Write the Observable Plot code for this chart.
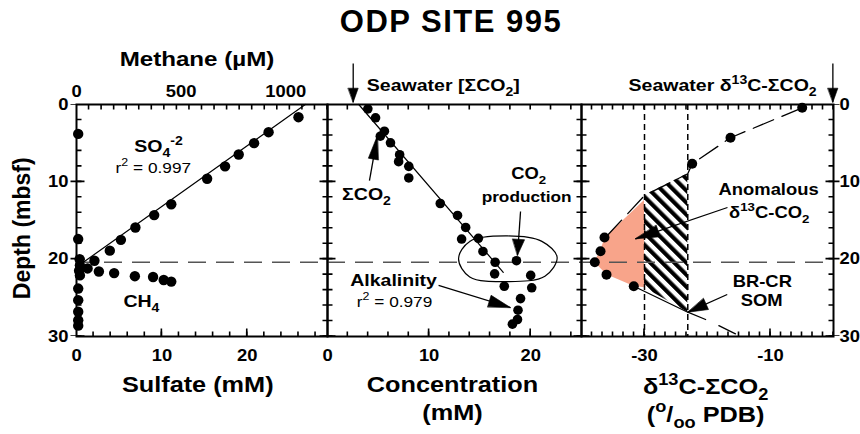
<!DOCTYPE html>
<html>
<head>
<meta charset="utf-8">
<script src="https://cdn.jsdelivr.net/npm/d3@7"></script>
<script src="https://cdn.jsdelivr.net/npm/@observablehq/plot@0.6"></script>
<style>
  body { margin: 0; background: #fff; }
  #chart { position: relative; width: 860px; height: 434px; overflow: hidden; font-family: "Liberation Sans", Arial, Helvetica, sans-serif; color: #000; }
  #chart svg { position: absolute; left: 0; top: 0; }
  #title { position: absolute; top: 6px; left: 0; width: 902px; text-align: center; font-size: 31px; line-height: 31px; font-weight: bold; letter-spacing: 1.5px; }
</style>
</head>
<body>
<div id="chart"><div id="title"></div></div>
<script>
// ---------------- data ----------------
const title = "ODP SITE 995";

// Left panel: sulfate (mM) and methane (µM) vs depth (mbsf)
const sulfateDepth = [1.64, 3.58, 5.0, 6.47, 8.0, 9.6, 12.9, 14.3, 15.9, 17.5, 18.9, 20.2, 21.2, 20.8, 21.5, 22.1, 23.8, 25.3, 26.8, 27.9, 28.6];
const sulfateMM    = [26.0, 22.5, 20.8, 19.0, 17.4, 15.3, 11.1, 9.1, 6.9, 5.2, 3.9, 2.1, 1.3, 0.4, 0.3, 0.4, 0.2, 0.2, 0.2, 0.2, 0.2];
const sulfateFitDepth = [0, 20.4];
const sulfateFitMM    = [26.8, 0.8];
const methaneDepth = [3.8, 17.4, 20.0, 21.6, 21.8, 22.2, 22.3, 22.7, 22.9];
const methaneUM    = [8, 8, 15, 107, 180, 279, 366, 417, 453];

// Middle panel: ΣCO2 / alkalinity concentration (mM) vs depth
const concDepth = [0.56, 1.72, 3.45, 4.1, 4.95, 6.5, 7.4, 8.0, 9.5, 12.8, 14.35, 15.9, 17.4, 17.3, 19.0, 20.4, 21.9, 23.5, 20.2, 22.1, 23.7, 25.1, 26.6, 27.8, 28.4];
const concMM    = [3.97, 4.73, 5.6, 5.2, 6.2, 7.1, 7.0, 8.0, 8.0, 11.1, 12.8, 13.6, 13.2, 14.85, 15.3, 16.5, 16.45, 17.4, 18.6, 20.0, 20.1, 19.0, 18.75, 18.7, 18.2];
const dicFitDepth = [0, 21.7];
const dicFitMM    = [3.08, 17.3];
const ellipseMM    = [12.9, 14.0, 17.7, 21.1, 22.6, 21.4, 17.7, 14.0];
const ellipseDepth = [19.95, 17.7, 17.0, 17.7, 19.75, 22.2, 22.9, 22.3];
const seawaterDIC = 2.53;

// Right panel: δ13C-ΣCO2 (‰ PDB) vs depth
const d13Depth = [0.43, 4.3, 7.67, 17.2, 18.97, 20.4, 22.0, 23.5];
const d13C     = [-4.97, -16.35, -22.43, -36.35, -36.98, -37.89, -36.03, -31.70];
const upperTrendC     = [-4.97, -16.35, -22.43, -23.13, -30.0, -36.19];
const upperTrendDepth = [0.43, 4.3, 7.67, 8.96, 11.77, 17.2];
const lowerTrendC     = [-31.7, -23.13, -20.3];
const lowerTrendDepth = [23.5, 26.86, 27.8];
const lowerTailC      = [-18.2, -15.56];
const lowerTailDepth  = [28.6, 29.65];
const somBounds = [-30.0, -23.13];            // vertical dotted lines
const hatchTop    = [11.77, 8.96];
const hatchBottom = [23.7, 26.86];
const anomDepth = [12.4, 17.2, 18.97, 20.4, 22.0, 23.5, 23.7];
const anomLeftC = [-30.0, -36.2, -37.0, -37.9, -36.0, -31.7, -30.0];
const seawaterD13 = -0.1;
const smtDepth = 20.4;                         // dashed horizontal line

// tick spacing / labels
const depthStep = 2, depthMajorStep = 10;
const depthLabels = [0, 10, 20, 30];
const sulfateStep = 2, sulfateLabels = [0, 10, 20];
const methaneStep = 60, methaneLabels = [0, 500, 1000];
const concStep = 2, concLabels = [0, 10, 20];
const d13Step = 5 / 3, d13Labels = [-30, -10];

// text
const txt = {
  methane: "Methane (µM)", sulfate: "Sulfate (mM)", depth: "Depth (mbsf)",
  so4: "SO{_4}{^-2}", r2a: "r{^2} = 0.997", ch4: "CH{_4}",
  swDIC: "Seawater [ΣCO{_2}]", dic: "ΣCO{_2}", co2: "CO{_2}", prod: "production",
  alk: "Alkalinity", r2b: "r{^2} = 0.979", conc1: "Concentration", conc2: "(mM)",
  swD13: "Seawater δ{^13}C-ΣCO{_2}", anom1: "Anomalous", anom2: "δ{^13}C-CO{_2}",
  som1: "BR-CR", som2: "SOM", d13a: "δ{^13}C-ΣCO{_2}", d13b: "({^o}/{_oo} PDB)"
};

// ---------------- layout ----------------
const W = 860, H = 434, TOP = 104, BOTTOM = 336;
const EDGES = [76, 327, 581, 833];
const depthDomain = [0, 30];
const FONT = '"Liberation Sans", Arial, Helvetica, sans-serif';
document.getElementById("title").textContent = title;

const rows = (xs, ys) => xs.map((x, i) => ({x, y: ys[i]}));

function makePlot(left, right, xDomain, marks) {
  return Plot.plot({
    width: W, height: H,
    marginLeft: left, marginRight: W - right, marginTop: TOP, marginBottom: H - BOTTOM,
    x: {domain: xDomain, axis: null},
    y: {domain: depthDomain, reverse: true, axis: null},
    style: {fontFamily: FONT, fontWeight: "bold", fontSize: "16px", background: "transparent", overflow: "visible", color: "black"},
    marks
  });
}

// Ticks drawn as thick dashed rules along each frame edge: every dash is one tick.
// Dash spacing comes from the panel's scale; the rule's width is the tick length.
function ticker(xDomain, left, right) {
  const sx = Plot.scale({x: {domain: xDomain, range: [left, right]}});
  const sy = Plot.scale({y: {domain: depthDomain, range: [TOP, BOTTOM]}});
  return (side, step, inward, outward = 0, start) => {
    const horiz = side === "bottom" || side === "top";
    const s0 = start === undefined ? (horiz ? xDomain[0] : depthDomain[0]) : start;
    const spacing = horiz ? Math.abs(sx.apply(xDomain[0] + step) - sx.apply(xDomain[0])) : Math.abs(sy.apply(step) - sy.apply(0));
    const startPx = horiz ? sx.apply(s0) - left : sy.apply(s0) - TOP;
    const offset = (((0.8 - startPx) % spacing) + spacing) % spacing;
    const dash = {stroke: "black", strokeDasharray: `1.6,${(spacing - 1.6).toFixed(3)}`, strokeDashoffset: offset};
    const edge = {bottom: BOTTOM, top: TOP, left, right}[side];
    const dir = (side === "bottom" || side === "right") ? -1 : 1;
    const out = [];
    const add = (px, w) => out.push(horiz
      ? Plot.ruleY([sy.invert(px)], {...dash, strokeWidth: w})
      : Plot.ruleX([sx.invert(px)], {...dash, strokeWidth: w}));
    if (inward) add(edge + dir * inward / 2, inward);
    if (outward) add(edge - dir * outward / 2, outward);
    return out;
  };
}
const lb = (fn, anchor, values, pad) => fn(values, {anchor, tickSize: 0, tickPadding: pad, label: null, tickFormat: d => String(d), fontSize: 16, fontWeight: "bold"});
const T = (t, x, y, fs, o = {}) => Plot.text([{x, y, t}], {x: "x", y: "y", text: "t", fontSize: fs, textAnchor: "middle", lineAnchor: "middle", fill: "black", ...o});

function arrows(list, xDomain, left, right) {
  const sx = Plot.scale({x: {domain: xDomain, range: [left, right]}});
  const sy = Plot.scale({y: {domain: depthDomain, range: [TOP, BOTTOM]}});
  return list.flatMap(a => {
    const dx = sx.apply(a.x2) - sx.apply(a.x1), dy = sy.apply(a.y2) - sy.apply(a.y1);
    const angle = Math.atan2(dx, -dy) * 180 / Math.PI;
    const hw = a.hw;
    const shape = {draw(ctx, l) { ctx.moveTo(0, -l); ctx.lineTo(-hw, 0); ctx.lineTo(hw, 0); ctx.closePath(); }};
    return [
      Plot.link([a], {x1: "x1", y1: "y1", x2: "x2", y2: "y2", stroke: "black", strokeWidth: 1.3}),
      Plot.vector([a], {x: "x2", y: "y2", rotate: angle, length: a.len, anchor: "end", shape, fill: "black", stroke: "black", strokeWidth: 0.6})
    ];
  });
}

// ---------- left panel: sulfate ----------
const sulfDomain = [0, 29.4];
const tkS = ticker(sulfDomain, EDGES[0], EDGES[1]);
const pSulfate = makePlot(EDGES[0], EDGES[1], sulfDomain, [
  ...tkS("bottom", sulfateStep, 5), ...tkS("bottom", 10, 8),
  ...tkS("left", depthStep, 5), ...tkS("left", depthMajorStep, 8, 6),
  ...tkS("right", depthStep, 5), ...tkS("right", depthMajorStep, 8),
  Plot.ruleY([smtDepth], {stroke: "#555", strokeWidth: 1.5, strokeDasharray: "18,10"}),
  Plot.line(rows(sulfateFitMM, sulfateFitDepth), {x: "x", y: "y", stroke: "black", strokeWidth: 1.2}),
  Plot.dot(rows(sulfateMM, sulfateDepth), {x: "x", y: "y", r: 5.2, fill: "black"}),
  T(txt.so4, 9.6, 5.4, 17),
  T(txt.r2a, 9.0, 8.2, 15, {fontWeight: "normal"}),
  T(txt.ch4, 7.6, 25.5, 17),
  T(txt.sulfate, 14.2, 36.3, 22),
  T(txt.depth, -6.3, 16, 23, {rotate: -90}),
  Plot.frame({stroke: "black", strokeWidth: 2}),
  lb(Plot.axisX, "bottom", sulfateLabels, 13),
  lb(Plot.axisY, "left", depthLabels, 8)
]);

// ---------- left panel overlay: methane ----------
const methDomain = [0, 1200];
const tkM = ticker(methDomain, EDGES[0], EDGES[1]);
const pMethane = makePlot(EDGES[0], EDGES[1], methDomain, [
  ...tkM("top", methaneStep, 5),
  Plot.dot(rows(methaneUM, methaneDepth), {x: "x", y: "y", r: 5.2, fill: "black"}),
  T(txt.methane, 576, -5.8, 21),
  lb(Plot.axisX, "top", methaneLabels, 8)
]);

// ---------- middle panel ----------
const concDomain = [0, 25];
const tkC = ticker(concDomain, EDGES[1], EDGES[2]);
const pConc = makePlot(EDGES[1], EDGES[2], concDomain, [
  ...tkC("bottom", concStep, 5), ...tkC("bottom", 10, 8),
  ...tkC("top", concStep, 5),
  ...tkC("left", depthStep, 5), ...tkC("left", depthMajorStep, 8),
  ...tkC("right", depthStep, 5), ...tkC("right", depthMajorStep, 8),
  Plot.ruleY([smtDepth], {stroke: "#555", strokeWidth: 1.5, strokeDasharray: "18,10"}),
  Plot.line(rows(dicFitMM, dicFitDepth), {x: "x", y: "y", stroke: "black", strokeWidth: 1.2}),
  Plot.line(rows(ellipseMM, ellipseDepth), {x: "x", y: "y", curve: "catmull-rom-closed", stroke: "black", strokeWidth: 1.2}),
  Plot.dot(rows(concMM, concDepth), {x: "x", y: "y", r: 4.8, fill: "black"}),
  ...arrows([
    {x1: 4.13, y1: 9.83, x2: 4.92, y2: 4.0, len: 24, hw: 5},
    {x1: 19.0, y1: 13.84, x2: 18.7, y2: 19.5, len: 16, hw: 6},
    {x1: 10.93, y1: 23.4, x2: 18.0, y2: 26.25, len: 22, hw: 6},
    {x1: seawaterDIC, y1: -5.3, x2: seawaterDIC, y2: -0.3, len: 14, hw: 5}
  ], concDomain, EDGES[1], EDGES[2]),
  T(txt.swDIC, 11.4, -2.4, 17),
  T(txt.dic, 3.84, 11.6, 17),
  T(txt.co2, 19.8, 9.0, 16),
  T(txt.prod, 19.6, 12.0, 15),
  T(txt.alk, 6.5, 22.8, 17),
  T(txt.r2b, 6.6, 25.5, 15, {fontWeight: "normal"}),
  T(txt.conc1, 12.3, 36.3, 22),
  T(txt.conc2, 12.3, 39.9, 22),
  Plot.frame({stroke: "black", strokeWidth: 2}),
  lb(Plot.axisX, "bottom", concLabels, 13)
]);

// ---------- right panel ----------
const d13Domain = [-40, 0];
const tkD = ticker(d13Domain, EDGES[2], EDGES[3]);
const pD13 = makePlot(EDGES[2], EDGES[3], d13Domain, [
  Plot.areaX(anomDepth.map((y, i) => ({y, x1: anomLeftC[i], x2: -30})), {y: "y", x1: "x1", x2: "x2", fill: "#f8a48a"}),
  Plot.areaY(somBounds.map((x, i) => ({x, y1: hatchTop[i], y2: hatchBottom[i]})), {x: "x", y1: "y1", y2: "y2", fill: "url(#hatch995)"}),
  ...tkD("bottom", d13Step, 5), ...tkD("bottom", 20, 8, 0, -30),
  ...tkD("top", d13Step, 5),
  ...tkD("left", depthStep, 5), ...tkD("left", depthMajorStep, 8),
  ...tkD("right", depthStep, 5), ...tkD("right", depthMajorStep, 8, 6),
  Plot.ruleX(somBounds, {stroke: "black", strokeWidth: 1.5, strokeDasharray: "6,4"}),
  Plot.ruleY([smtDepth], {stroke: "#555", strokeWidth: 1.5, strokeDasharray: "18,10"}),
  Plot.line(rows(upperTrendC, upperTrendDepth), {x: "x", y: "y", stroke: "black", strokeWidth: 1.3, strokeDasharray: "22,9"}),
  Plot.line(rows(lowerTrendC, lowerTrendDepth), {x: "x", y: "y", stroke: "black", strokeWidth: 1.3}),
  Plot.line(rows(lowerTailC, lowerTailDepth), {x: "x", y: "y", stroke: "black", strokeWidth: 1.3}),
  Plot.dot(rows(d13C, d13Depth), {x: "x", y: "y", r: 5, fill: "black"}),
  ...arrows([
    {x1: -16.83, y1: 13.32, x2: -31.43, y2: 17.37, len: 24, hw: 6},
    {x1: -16.87, y1: 24.57, x2: -23.13, y2: 26.86, len: 20, hw: 6},
    {x1: seawaterD13, y1: -5.3, x2: seawaterD13, y2: -0.3, len: 14, hw: 5}
  ], d13Domain, EDGES[2], EDGES[3]),
  T(txt.swD13, -17.6, -2.4, 17),
  T(txt.anom1, -10.3, 11.06, 16),
  T(txt.anom2, -10.2, 14.03, 16),
  T(txt.som1, -11.3, 22.95, 16),
  T(txt.som2, -11.4, 25.4, 16),
  T(txt.d13a, -20.3, 36.5, 22),
  T(txt.d13b, -20.3, 40.1, 22),
  Plot.frame({stroke: "black", strokeWidth: 2}),
  lb(Plot.axisX, "bottom", d13Labels, 13),
  lb(Plot.axisY, "right", depthLabels, 6)
]);

// hatch pattern for the BR-CR SOM band
{
  const defs = d3.select(pD13).insert("defs", ":first-child");
  const pat = defs.append("pattern").attr("id", "hatch995").attr("patternUnits", "userSpaceOnUse")
    .attr("width", 8.5).attr("height", 8.5).attr("patternTransform", "rotate(-45)");
  pat.append("rect").attr("width", 4.2).attr("height", 8.5).attr("fill", "black");
}

const chart = document.getElementById("chart");
for (const p of [pSulfate, pMethane, pConc, pD13]) chart.appendChild(p);

// sub/superscripts written as {_x} / {^x}; widen glyphs a little like the original artwork
const STRETCH = 1.15;
function richify(svg) {
  svg.querySelectorAll("text").forEach(el => {
    const s = el.textContent;
    const cs = getComputedStyle(el);
    const tr = el.getAttribute("transform") || "";
    if (!tr.includes("rotate")) {
      if (tr) el.setAttribute("transform", tr + ` scale(${STRETCH},1)`);
      else {
        const x = +(el.getAttribute("x") || 0), y = +(el.getAttribute("y") || 0);
        el.setAttribute("x", 0); el.setAttribute("y", 0);
        el.setAttribute("transform", `translate(${x},${y}) scale(${STRETCH},1)`);
      }
    }
    if (!s.includes("{")) return;
    const fs = parseFloat(cs.fontSize);
    while (el.firstChild) el.removeChild(el.firstChild);
    let cur = 0;
    for (const part of s.split(/(\{[_^][^}]*\})/)) {
      if (!part) continue;
      const m = part.match(/^\{([_^])(.*)\}$/);
      const ts = document.createElementNS("http://www.w3.org/2000/svg", "tspan");
      let target = 0;
      if (m) {
        target = m[1] === "_" ? 0.3 * fs : -0.42 * fs;
        ts.style.fontSize = (0.72 * fs) + "px";
        ts.textContent = m[2];
      } else ts.textContent = part;
      ts.setAttribute("dy", (target - cur) + "px");
      cur = target;
      el.appendChild(ts);
    }
  });
}
for (const p of [pSulfate, pMethane, pConc, pD13]) richify(p);
</script>
</body>
</html>
